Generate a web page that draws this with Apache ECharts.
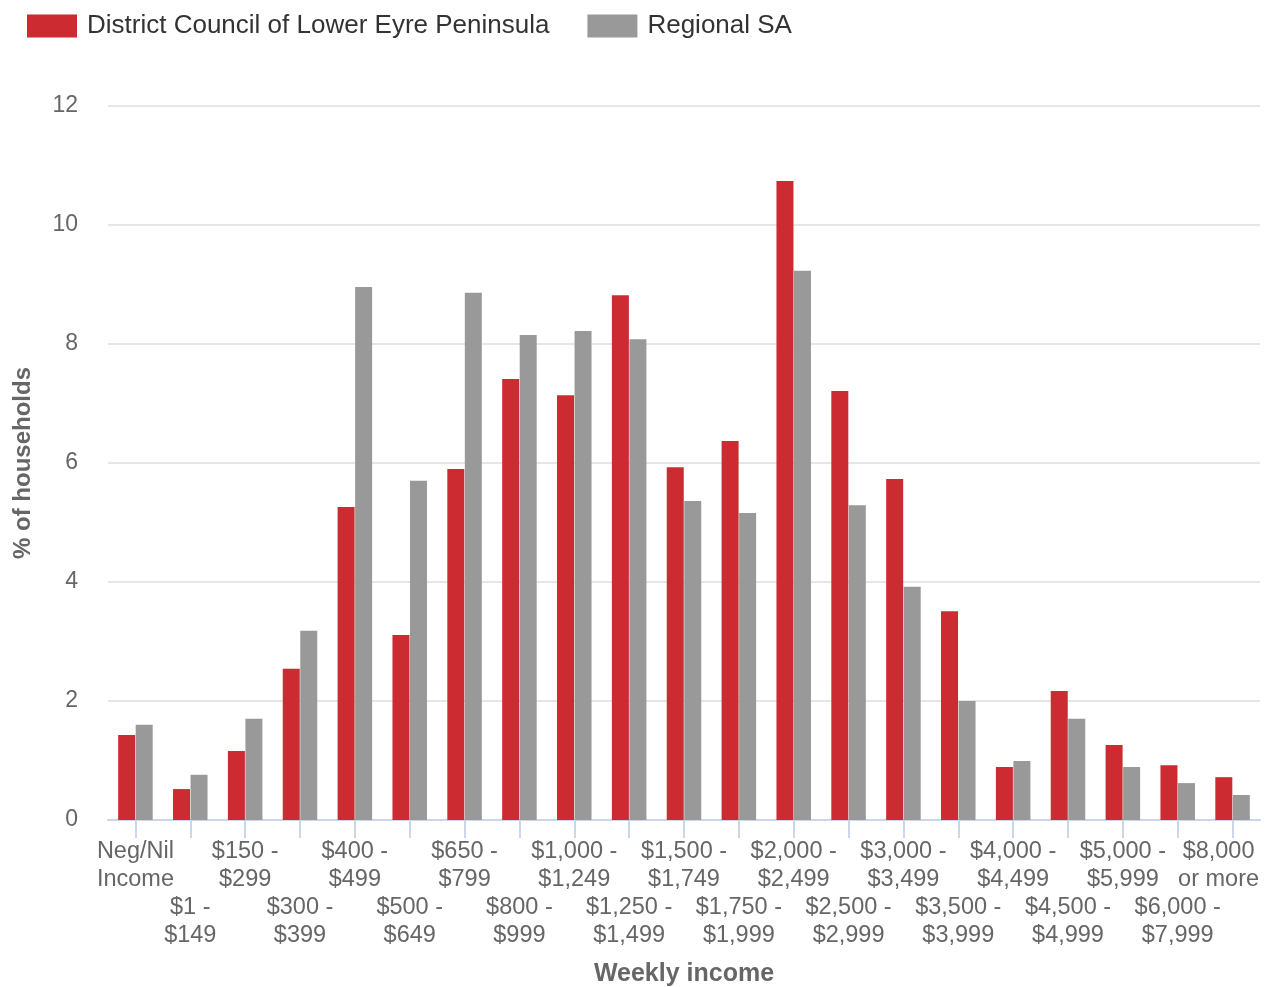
<!DOCTYPE html>
<html><head><meta charset="utf-8">
<script src="https://cdn.jsdelivr.net/npm/echarts@6/dist/echarts.min.js"></script>
<style>html,body{margin:0;padding:0;background:#fff}#c{width:1266px;height:987px}</style>
</head><body><div id="c"></div>
<script>
const categories = ["Neg/Nil\nIncome","$1 -\n$149","$150 -\n$299","$300 -\n$399","$400 -\n$499","$500 -\n$649","$650 -\n$799","$800 -\n$999","$1,000 -\n$1,249","$1,250 -\n$1,499","$1,500 -\n$1,749","$1,750 -\n$1,999","$2,000 -\n$2,499","$2,500 -\n$2,999","$3,000 -\n$3,499","$3,500 -\n$3,999","$4,000 -\n$4,499","$4,500 -\n$4,999","$5,000 -\n$5,999","$6,000 -\n$7,999","$8,000\nor more"];
const lowerEyre = [1.43,0.52,1.16,2.54,5.26,3.11,5.90,7.41,7.14,8.82,5.93,6.37,10.74,7.21,5.73,3.51,0.89,2.17,1.26,0.92,0.72];
const regionalSA = [1.60,0.76,1.70,3.18,8.96,5.70,8.86,8.15,8.22,8.08,5.36,5.16,9.23,5.29,3.92,2.00,0.99,1.70,0.89,0.62,0.42];
const yTicks = {min:0, max:12, interval:2};

const chart = echarts.init(document.getElementById('c'));
const ff = 'Liberation Sans, Arial, sans-serif';
const last = categories.length - 1;
const catData = categories.map((c,i)=> i===last ? {value:c, textStyle:{padding:[0,28,0,0]}} : c);
chart.setOption({
  animation:false,
  textStyle:{fontFamily:ff},
  legend:{left:22, top:8, itemWidth:50, itemHeight:23, itemGap:38, icon:'rect',
    textStyle:{fontSize:26, color:'#333', fontFamily:ff, padding:[0,0,0,5]}},
  grid:{left:108, right:6, top:106, bottom:167, containLabel:false, outerBoundsMode:'none'},
  xAxis:{type:'category', data:catData,
    name:'Weekly income', nameLocation:'middle', nameGap:142,
    nameTextStyle:{fontSize:25, fontWeight:'bold', color:'#666', fontFamily:ff},
    axisLine:{show:true, lineStyle:{color:'#ccd6eb', width:2}},
    axisTick:{show:true, alignWithLabel:true, length:18, lineStyle:{color:'#ccd6eb', width:2}},
    axisLabel:{interval:0, fontSize:23.5, color:'#666', lineHeight:28, margin:18, fontFamily:ff,
      formatter:(v,i)=> i%2 ? '\n\n'+v : v+'\n\n'}
  },
  yAxis:{type:'value', min:yTicks.min, max:yTicks.max, interval:yTicks.interval,
    name:'% of households', nameLocation:'middle', nameGap:73, nameRotate:90,
    nameTextStyle:{fontSize:24, fontWeight:'bold', color:'#666', fontFamily:ff},
    axisLabel:{fontSize:23, color:'#666', margin:30, fontFamily:ff},
    splitLine:{lineStyle:{color:'#e6e6e6', width:2}},
    axisLine:{show:false}, axisTick:{show:false}
  },
  series:[
    {name:'District Council of Lower Eyre Peninsula', type:'bar', data:lowerEyre, barWidth:17, barGap:'3%', itemStyle:{color:'#cc2b32'}},
    {name:'Regional SA', type:'bar', data:regionalSA, barWidth:17, barGap:'3%', itemStyle:{color:'#999999'}}
  ]
});
</script></body></html>
